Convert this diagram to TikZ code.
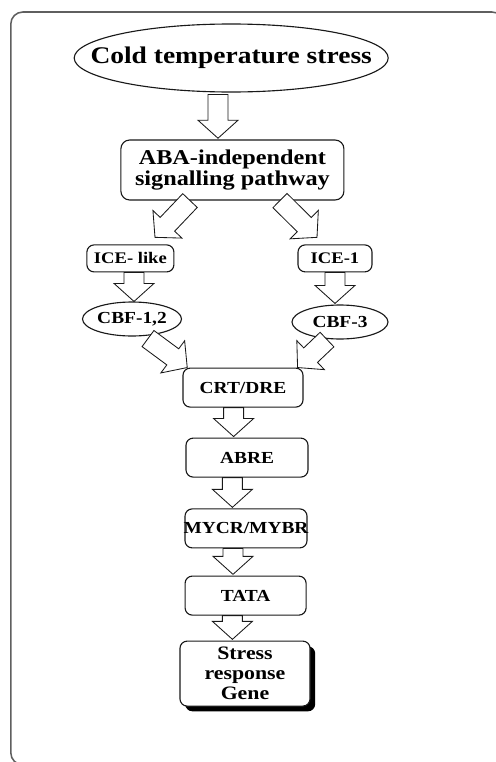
\documentclass[tikz,border=0pt]{standalone}
\usepackage{fontspec}
\setmainfont{Liberation Serif}[FakeStretch=1.15]
\usetikzlibrary{shapes.geometric,calc,shadows}
\definecolor{framegray}{RGB}{95,95,95}
\definecolor{linedark}{RGB}{25,25,25}

% hollow block arrow from #1 to the tip #2
\newcommand{\fatarrow}[2]{%
  \coordinate (fa-s) at #1;
  \coordinate (fa-t) at #2;
  \coordinate (fa-b) at ($(fa-t)!0.45cm!(fa-s)$);
  \draw[fatarr] ($(fa-s)!0.25cm!90:(fa-t)$) -- ($(fa-b)!0.25cm!90:(fa-t)$)
    -- ($(fa-b)!0.5cm!90:(fa-t)$) -- (fa-t) -- ($(fa-b)!0.5cm!-90:(fa-t)$)
    -- ($(fa-b)!0.25cm!-90:(fa-t)$) -- ($(fa-s)!0.25cm!-90:(fa-t)$) -- cycle;}

\begin{document}
\begin{tikzpicture}[
    ovalnode/.style={ellipse, draw=linedark, line width=0.8pt, inner sep=0pt},
    boxnode/.style={rectangle, rounded corners=0.18cm, draw=linedark, line width=0.8pt, inner sep=0pt, align=center},
    fatarr/.style={fill=white, draw=linedark, line width=0.6pt, line join=miter},
    bigfont/.style={font=\bfseries\fontsize{17}{19}\selectfont},
    midfont/.style={font=\bfseries\fontsize{15}{15.5}\selectfont},
    smallfont/.style={font=\bfseries\fontsize{12}{13}\selectfont}
]

\useasboundingbox (0,0) rectangle (12.375,-19.05);

% Outer Frame (right and bottom edges run off the page)
\draw[framegray, line width=1.1pt, rounded corners=0.3cm] (0.27,-0.3) rectangle (12.6,-19.12);

% 1. TOP
\node[ovalnode, bigfont, minimum width=7.85cm, minimum height=1.7cm] (cold) at (5.78,-1.45) {\makebox[0pt]{Cold temperature stress}};
\node[boxnode, midfont, rounded corners=0.22cm, minimum width=5.575cm, minimum height=1.5cm] (aba) at (5.81,-4.25) {ABA-independent\\signalling pathway};

% 2. TWO BRANCHES
\node[boxnode, font=\bfseries\fontsize{11.5}{12}\selectfont, minimum width=2.175cm, minimum height=0.675cm] (icel) at (3.26,-6.46) {ICE- like};
\node[boxnode, font=\bfseries\fontsize{11.5}{12}\selectfont, minimum width=1.85cm, minimum height=0.675cm] (ice1) at (8.375,-6.46) {ICE-1};
\node[ovalnode, smallfont, minimum width=2.475cm, minimum height=0.85cm] (cbf12) at (3.3,-7.975) {\makebox[0pt]{CBF-1,2}};
\node[ovalnode, smallfont, minimum width=2.4cm, minimum height=0.85cm] (cbf3) at (8.5,-8.05) {\makebox[0pt]{CBF-3}};

% 3. ELEMENTS
\node[boxnode, smallfont, minimum width=3.0cm, minimum height=0.975cm] (crt) at (6.075,-9.69) {CRT/DRE};
\node[boxnode, smallfont, minimum width=3.05cm, minimum height=0.975cm] (abre) at (6.175,-11.44) {ABRE};
\node[boxnode, smallfont, minimum width=3.05cm, minimum height=0.975cm] (mycr) at (6.15,-13.21) {\makebox[0pt]{MYCR/MYBR}};
\node[boxnode, smallfont, minimum width=3.025cm, minimum height=0.975cm] (tata) at (6.14,-14.89) {TATA};
\node[boxnode, font=\bfseries\fontsize{13.5}{14.2}\selectfont, minimum width=3.25cm, minimum height=1.625cm,
      fill=white, drop shadow={shadow xshift=0.13cm, shadow yshift=-0.13cm, fill=black, opacity=1}] (gene) at (6.125,-16.84) {Stress\\response\\Gene};

% 4. ARROWS
\fatarrow{($(cold.south)+(-0.33,-0.05)$)}{($(aba.north)+(-0.36,0.03)$)}
\fatarrow{($(aba.south)+(-1.06,0)$)}{($(icel.north)+(0.615,0.175)$)}
\fatarrow{($(aba.south)+(1.19,0)$)}{($(ice1.north)+(-0.45,0.175)$)}
\fatarrow{($(icel.south)+(0.09,0)$)}{($(cbf12.north)+(0.05,0)$)}
\fatarrow{(ice1.south)}{($(cbf3.north)+(-0.125,0.025)$)}
\fatarrow{($(cbf12.south)+(0.4,-0.05)$)}{($(crt.north west)+(0.12,0)$)}
\fatarrow{($(cbf3.south)+(-0.325,0)$)}{($(crt.north east)+(-0.15,0)$)}
\fatarrow{($(crt.south)+(-0.235,0)$)}{($(abre.north)+(-0.335,0.025)$)}
\fatarrow{($(abre.south)+(-0.365,0)$)}{($(mycr.north)+(-0.34,0.025)$)}
\fatarrow{($(mycr.south)+(-0.325,0)$)}{($(tata.north)+(-0.315,0.03)$)}
\fatarrow{($(tata.south)+(-0.33,0)$)}{($(gene.north)+(-0.315,0.03)$)}

\end{tikzpicture}
\end{document}
